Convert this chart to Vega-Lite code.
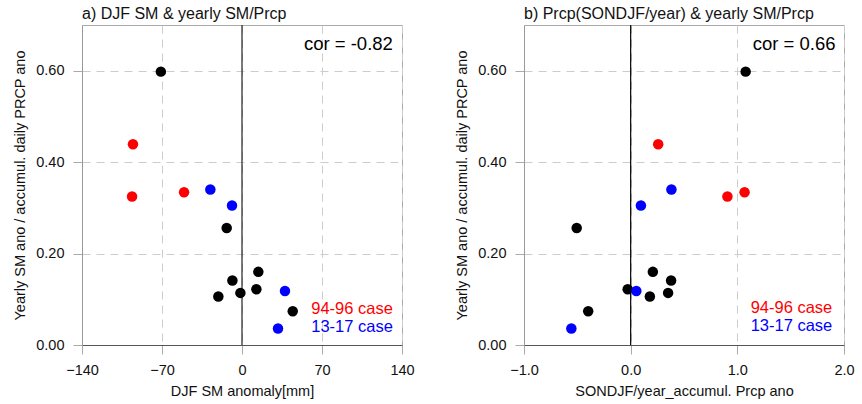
{
  "$schema": "https://vega.github.io/schema/vega-lite/v6.json",
  "background": "white",
  "padding": {"left": 12, "top": 5, "right": 0, "bottom": 0},
  "config": {
    "font": "Liberation Sans",
    "view": {"stroke": "#aaaaaa", "strokeWidth": 1},
    "axis": {
      "labelFont": "Liberation Sans", "labelFontSize": 14.5, "labelColor": "#111111",
      "titleFont": "Liberation Sans", "titleFontSize": 14.5, "titleFontWeight": "normal", "titleColor": "#111111",
      "tickSize": 9, "tickColor": "#aaaaaa", "labelPadding": 9, "labelFlush": false,
      "gridColor": "#cccccc", "gridDash": [8, 6], "gridWidth": 1
    },
    "axisX": {"domainColor": "#555555", "titlePadding": 8},
    "axisY": {"domainColor": "#999999", "titlePadding": 8},
    "title": {"font": "Liberation Sans", "fontSize": 16, "fontWeight": "normal", "anchor": "start", "frame": "group", "offset": 2, "color": "#111111"}
  },
  "datasets": {
    "pts": [
      {"djf": -71.0, "prcp": 1.078, "ratio": 0.598, "case": "other"},
      {"djf": -95.4, "prcp": 0.258, "ratio": 0.439, "case": "94-96 case"},
      {"djf": -96.2, "prcp": 0.907, "ratio": 0.325, "case": "94-96 case"},
      {"djf": -50.7, "prcp": 1.068, "ratio": 0.334, "case": "94-96 case"},
      {"djf": -27.7, "prcp": 0.382, "ratio": 0.340, "case": "13-17 case"},
      {"djf": -8.75, "prcp": 0.096, "ratio": 0.305, "case": "13-17 case"},
      {"djf": -13.4, "prcp": -0.506, "ratio": 0.256, "case": "other"},
      {"djf": 14.3, "prcp": 0.208, "ratio": 0.160, "case": "other"},
      {"djf": -8.4, "prcp": 0.379, "ratio": 0.141, "case": "other"},
      {"djf": 12.6, "prcp": -0.028, "ratio": 0.122, "case": "other"},
      {"djf": 37.6, "prcp": 0.053, "ratio": 0.118, "case": "13-17 case"},
      {"djf": -1.4, "prcp": 0.351, "ratio": 0.114, "case": "other"},
      {"djf": -20.7, "prcp": 0.180, "ratio": 0.106, "case": "other"},
      {"djf": 44.4, "prcp": -0.398, "ratio": 0.074, "case": "other"},
      {"djf": 31.5, "prcp": -0.556, "ratio": 0.036, "case": "13-17 case"}
    ]
  },
  "spacing": 39,
  "hconcat": [
    {
      "width": 320, "height": 320,
      "title": "a) DJF SM & yearly SM/Prcp",
      "layer": [
        {
          "data": {"values": [{}]},
          "mark": {"type": "rule", "color": "#222222", "strokeWidth": 1.2},
          "encoding": {"x": {"datum": 0, "type": "quantitative"}}
        },
        {
          "data": {"name": "pts"},
          "mark": {"type": "circle", "size": 110, "opacity": 1},
          "encoding": {
            "x": {"field": "djf", "type": "quantitative",
                  "scale": {"domain": [-140, 140], "nice": false, "zero": false},
                  "axis": {"values": [-140, -70, 0, 70, 140], "title": "DJF SM anomaly[mm]", "grid": true}},
            "y": {"field": "ratio", "type": "quantitative",
                  "scale": {"domain": [0, 0.7], "nice": false},
                  "axis": {"values": [0, 0.2, 0.4, 0.6], "format": ".2f", "title": "Yearly SM ano / accumul. daily PRCP ano", "grid": true}},
            "color": {"field": "case", "type": "nominal",
                      "scale": {"domain": ["other", "94-96 case", "13-17 case"], "range": ["#000000", "#ff0000", "#0000ff"]},
                      "legend": null}
          }
        },
        {
          "data": {"values": [{}]},
          "mark": {"type": "text", "align": "right", "baseline": "alphabetic", "fontSize": 18.5, "color": "#000000"},
          "encoding": {"x": {"datum": 132, "type": "quantitative"}, "y": {"datum": 0.645, "type": "quantitative"}, "text": {"value": "cor = -0.82"}}
        },
        {
          "data": {"values": [{}]},
          "mark": {"type": "text", "align": "right", "baseline": "alphabetic", "fontSize": 16.5, "color": "#ff0000"},
          "encoding": {"x": {"datum": 132, "type": "quantitative"}, "y": {"datum": 0.067, "type": "quantitative"}, "text": {"value": "94-96 case"}}
        },
        {
          "data": {"values": [{}]},
          "mark": {"type": "text", "align": "right", "baseline": "alphabetic", "fontSize": 16.5, "color": "#0000ff"},
          "encoding": {"x": {"datum": 132, "type": "quantitative"}, "y": {"datum": 0.028, "type": "quantitative"}, "text": {"value": "13-17 case"}}
        }
      ]
    },
    {
      "width": 320, "height": 320,
      "title": "b) Prcp(SONDJF/year) & yearly SM/Prcp",
      "layer": [
        {
          "data": {"values": [{}]},
          "mark": {"type": "rule", "color": "#000000", "strokeWidth": 1.2},
          "encoding": {"x": {"datum": 0, "type": "quantitative"}}
        },
        {
          "data": {"name": "pts"},
          "mark": {"type": "circle", "size": 110, "opacity": 1},
          "encoding": {
            "x": {"field": "prcp", "type": "quantitative",
                  "scale": {"domain": [-1, 2], "nice": false, "zero": false},
                  "axis": {"values": [-1, 0, 1, 2], "format": ".1f", "title": "SONDJF/year_accumul. Prcp ano", "grid": true}},
            "y": {"field": "ratio", "type": "quantitative",
                  "scale": {"domain": [0, 0.7], "nice": false},
                  "axis": {"values": [0, 0.2, 0.4, 0.6], "format": ".2f", "title": "Yearly SM ano / accumul. daily PRCP ano", "grid": true}},
            "color": {"field": "case", "type": "nominal",
                      "scale": {"domain": ["other", "94-96 case", "13-17 case"], "range": ["#000000", "#ff0000", "#0000ff"]},
                      "legend": null}
          }
        },
        {
          "data": {"values": [{}]},
          "mark": {"type": "text", "align": "right", "baseline": "alphabetic", "fontSize": 18.5, "color": "#000000"},
          "encoding": {"x": {"datum": 1.92, "type": "quantitative"}, "y": {"datum": 0.646, "type": "quantitative"}, "text": {"value": "cor = 0.66"}}
        },
        {
          "data": {"values": [{}]},
          "mark": {"type": "text", "align": "right", "baseline": "alphabetic", "fontSize": 16.5, "color": "#ff0000"},
          "encoding": {"x": {"datum": 1.89, "type": "quantitative"}, "y": {"datum": 0.069, "type": "quantitative"}, "text": {"value": "94-96 case"}}
        },
        {
          "data": {"values": [{}]},
          "mark": {"type": "text", "align": "right", "baseline": "alphabetic", "fontSize": 16.5, "color": "#0000ff"},
          "encoding": {"x": {"datum": 1.89, "type": "quantitative"}, "y": {"datum": 0.031, "type": "quantitative"}, "text": {"value": "13-17 case"}}
        }
      ]
    }
  ]
}
